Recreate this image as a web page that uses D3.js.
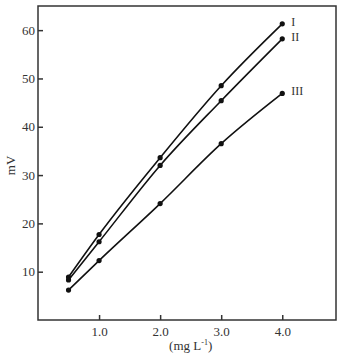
<!DOCTYPE html>
<html>
<head>
<meta charset="utf-8">
<script src="https://cdn.jsdelivr.net/npm/d3@7"></script>
<style>
  body { margin: 0; background: #fff; }
  svg text { font-family: "Liberation Serif", "DejaVu Serif", serif; fill: #333; }
</style>
</head>
<body>
<script>
// datos
const concentracion = [0.5, 1.0, 2.0, 3.0, 4.0];
const serieI   = [8.9, 17.7, 33.6, 48.5, 61.3];
const serieII  = [8.3, 16.2, 32.0, 45.4, 58.2];
const serieIII = [6.2, 12.3, 24.1, 36.5, 46.9];
const nombresSeries = ["I", "II", "III"];
const ticksX = [1.0, 2.0, 3.0, 4.0];
const ticksY = [10, 20, 30, 40, 50, 60];

const width = 342, height = 354;
const margin = { left: 38, right: 6, top: 6, bottom: 34 };

const svg = d3.select("body").append("svg")
  .attr("width", width)
  .attr("height", height);

const xScale = d3.scaleLinear()
  .domain([0, 4.88])
  .range([margin.left, width - margin.right]);

const yScale = d3.scaleLinear()
  .domain([0, 65])
  .range([height - margin.bottom, margin.top]);

// marco
svg.append("rect")
  .attr("x", margin.left)
  .attr("y", margin.top)
  .attr("width", width - margin.left - margin.right)
  .attr("height", height - margin.top - margin.bottom)
  .attr("fill", "none")
  .attr("stroke", "#333")
  .attr("stroke-width", 1.5);

// ejes (ticks hacia dentro)
const ejeX = d3.axisBottom(xScale)
  .tickValues(ticksX)
  .tickFormat(d3.format(".1f"))
  .tickSizeInner(-5)
  .tickSizeOuter(0)
  .tickPadding(7);

svg.append("g")
  .attr("transform", "translate(0," + (height - margin.bottom) + ")")
  .call(ejeX)
  .call(g => g.select(".domain").remove())
  .call(g => g.selectAll("line").attr("stroke", "#333").attr("stroke-width", 1.5))
  .call(g => g.selectAll("text").style("font-size", "13px"));

const ejeY = d3.axisLeft(yScale)
  .tickValues(ticksY)
  .tickSizeInner(-5)
  .tickSizeOuter(0)
  .tickPadding(3);

svg.append("g")
  .attr("transform", "translate(" + margin.left + ",0)")
  .call(ejeY)
  .call(g => g.select(".domain").remove())
  .call(g => g.selectAll("line").attr("stroke", "#333").attr("stroke-width", 1.5))
  .call(g => g.selectAll("text").style("font-size", "13px"));

// titulos de ejes
svg.append("text")
  .attr("x", xScale(2.5))
  .attr("y", height - 4)
  .attr("text-anchor", "middle")
  .style("font-size", "13px")
  .html('(mg L<tspan dy="-5" font-size="8">-1</tspan><tspan dy="5">)</tspan>');

svg.append("text")
  .attr("transform", "translate(15," + yScale(32) + ") rotate(-90)")
  .attr("text-anchor", "middle")
  .style("font-size", "13px")
  .text("mV");

// lineas y puntos
const series = [serieI, serieII, serieIII];
const linea = d3.line()
  .x((d, i) => xScale(concentracion[i]))
  .y(d => yScale(d))
  .curve(d3.curveMonotoneX);

series.forEach((valores, k) => {
  svg.append("path")
    .datum(valores)
    .attr("d", linea)
    .attr("fill", "none")
    .attr("stroke", "#111")
    .attr("stroke-width", 1.6);

  svg.append("g")
    .selectAll("circle")
    .data(valores)
    .enter()
    .append("circle")
    .attr("cx", (d, i) => xScale(concentracion[i]))
    .attr("cy", d => yScale(d))
    .attr("r", 2.6)
    .attr("fill", "#111");

  const ultimo = valores[valores.length - 1];
  svg.append("text")
    .attr("x", xScale(4.0) + 9)
    .attr("y", yScale(ultimo) + 2)
    .style("font-size", "12px")
    .text(nombresSeries[k]);
});
</script>
</body>
</html>
